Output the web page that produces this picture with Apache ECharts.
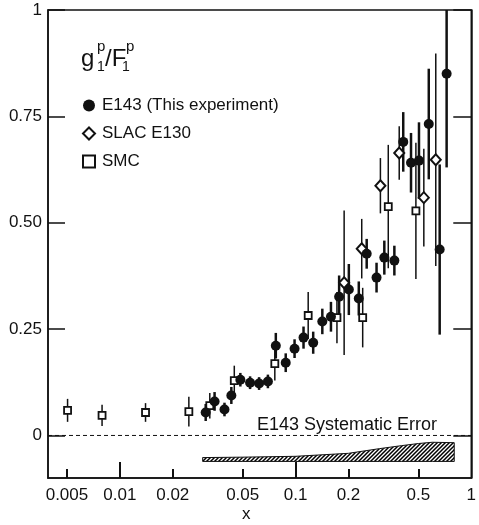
<!DOCTYPE html>
<html><head><meta charset="utf-8">
<script src="https://cdn.jsdelivr.net/npm/echarts@6/dist/echarts.min.js"></script>
<style>html,body{margin:0;padding:0;background:#fff}#c{width:479px;height:525px}</style>
</head><body><div id="c"></div>
<script>
// E143 (This experiment)
const e143X = [0.0308,0.0346,0.0394,0.0431,0.0485,0.0551,0.0620,0.0696,0.0772,0.0879,0.0987,0.111,0.126,0.142,0.159,0.177,0.201,0.229,0.254,0.289,0.320,0.365,0.410,0.454,0.504,0.573,0.661,0.724];
const e143Y = [0.054,0.080,0.061,0.094,0.131,0.124,0.122,0.127,0.211,0.171,0.204,0.230,0.218,0.268,0.279,0.326,0.343,0.322,0.427,0.371,0.418,0.411,0.690,0.641,0.646,0.732,0.437,0.850];
const e143Err = [0.02,0.022,0.016,0.02,0.016,0.015,0.015,0.016,0.03,0.022,0.022,0.026,0.026,0.03,0.035,0.05,0.06,0.04,0.035,0.035,0.04,0.035,0.07,0.07,0.09,0.13,0.2,0.22];
// SLAC E130
const e130X = [0.189,0.238,0.304,0.389,0.537,0.628];
const e130Y = [0.359,0.439,0.587,0.664,0.559,0.648];
const e130Err = [0.17,0.07,0.065,0.063,0.115,0.25];
// SMC
const smcX = [0.00504,0.00792,0.0140,0.0247,0.0325,0.0448,0.0762,0.118,0.172,0.241,0.337,0.484];
const smcY = [0.059,0.047,0.054,0.056,0.070,0.129,0.169,0.282,0.277,0.277,0.538,0.528];
const smcErr = [0.027,0.025,0.022,0.035,0.03,0.035,0.04,0.055,0.06,0.07,0.145,0.16];
// E143 systematic error band
const bandX = [0.0296,0.05,0.1,0.2,0.3,0.4,0.5,0.6,0.8];
const bandTop = [-0.052,-0.051,-0.049,-0.042,-0.031,-0.024,-0.019,-0.016,-0.017];
const bandBottom = [-0.061,-0.061,-0.061,-0.061,-0.061,-0.061,-0.061,-0.061,-0.061];
// ticks
const xLabelValues = [0.005,0.01,0.02,0.05,0.1,0.2,0.5,1];
const xMajorTicks = [0.01,0.1];
const xMinorTicks = [0.005,0.02,0.05,0.2,0.5];
const yTickValues = [0,0.25,0.5,0.75,1];

const FONT = '"Liberation Sans", Arial, Helvetica, sans-serif';
const INK = '#111';

// hatch pattern
const pat = document.createElement('canvas');
pat.width = 4; pat.height = 4;
(function(){
  const c = pat.getContext('2d');
  c.fillStyle = '#fff'; c.fillRect(0,0,4,4);
  c.strokeStyle = '#000'; c.lineWidth = 1.5;
  c.beginPath();
  c.moveTo(0,4); c.lineTo(4,0);
  c.moveTo(-1,1); c.lineTo(1,-1);
  c.moveTo(3,5); c.lineTo(5,3);
  c.stroke();
})();

function errSeries(xs, ys, es, width) {
  return {
    type: 'custom', silent: true, clip: true, z: 2,
    data: xs.map((x,i)=>[x, ys[i]-es[i], ys[i]+es[i]]),
    encode: {x: 0, y: [1,2]},
    renderItem: function(params, api){
      const p1 = api.coord([api.value(0), api.value(1)]);
      const p2 = api.coord([api.value(0), api.value(2)]);
      return {type:'line', shape:{x1:p1[0],y1:p1[1],x2:p2[0],y2:p2[1]}, style:{stroke:INK, lineWidth:width}};
    }
  };
}

const chart = echarts.init(document.getElementById('c'), null, {renderer:'canvas'});
const xBase = {type:'log', logBase:10, min:0.0039, max:1, gridIndex:0, splitLine:{show:false}};
chart.setOption({
  animation: false,
  backgroundColor: '#fff',
  textStyle: {fontFamily: FONT},
  grid: {left:48, right:2, top:10, bottom:47, show:true, borderColor:INK, borderWidth:1.5, backgroundColor:'transparent'},
  xAxis: [
    Object.assign({}, xBase, {
      position:'bottom',
      axisLine:{show:true, onZero:false, lineStyle:{color:INK, width:1.5}},
      axisTick:{show:true, inside:true, length:16, lineStyle:{color:INK, width:2}, customValues: xMajorTicks},
      axisLabel:{show:true, customValues: xLabelValues, fontSize:17, color:INK, margin:9, fontFamily:FONT,
        formatter: v => String(+v.toPrecision(3))}
    }),
    Object.assign({}, xBase, {
      position:'bottom',
      axisLine:{show:false, onZero:false},
      axisTick:{show:true, inside:true, length:9, lineStyle:{color:INK, width:2}, customValues: xMinorTicks},
      axisLabel:{show:false}
    })
  ],
  yAxis: [
    {type:'value', min:-0.1, max:1, position:'left', splitLine:{show:false},
      axisLine:{show:true, onZero:false, lineStyle:{color:INK, width:1.5}},
      axisTick:{show:true, inside:true, length:17, lineStyle:{color:INK, width:1.5}, customValues: yTickValues},
      axisLabel:{show:true, customValues: yTickValues, fontSize:17, color:INK, margin:6, fontFamily:FONT,
        formatter: v => (v===0 ? '0' : (v===1 ? '1' : v.toFixed(2)))}
    },
    {type:'value', min:-0.1, max:1, position:'right', splitLine:{show:false},
      axisLine:{show:true, onZero:false, lineStyle:{color:INK, width:1.5}},
      axisTick:{show:true, inside:true, length:18, lineStyle:{color:INK, width:1.5}, customValues: yTickValues},
      axisLabel:{show:false}
    }
  ],
  legend: {
    orient:'vertical', left:77, top:92, itemGap:11, itemWidth:12, itemHeight:12,
    textStyle:{fontSize:17, color:INK, fontFamily:FONT, padding:[0,0,0,2]},
    data:['E143 (This experiment)','SLAC E130','SMC']
  },
  graphic: [
    {type:'text', left:81, top:47, style:{text:'g', font:'24px '+FONT, fill:INK}},
    {type:'text', left:97, top:39, style:{text:'p', font:'15px '+FONT, fill:INK}},
    {type:'text', left:97, top:60, style:{text:'1', font:'14px '+FONT, fill:INK}},
    {type:'text', left:105, top:47, style:{text:'/F', font:'24px '+FONT, fill:INK}},
    {type:'text', left:126, top:39, style:{text:'p', font:'15px '+FONT, fill:INK}},
    {type:'text', left:122, top:60, style:{text:'1', font:'14px '+FONT, fill:INK}},
    {type:'text', left:257, top:416, style:{text:'E143 Systematic Error', font:'18px '+FONT, fill:INK}},
    {type:'text', left:242, top:506, style:{text:'x', font:'17px '+FONT, fill:INK}}
  ],
  series: [
    {
      type:'custom', silent:true, z:1,
      data:[[bandX[0], bandTop[0]]],
      renderItem: function(params, api){
        const pts = [];
        for (let i=0;i<bandX.length;i++) pts.push(api.coord([bandX[i], bandTop[i]]));
        for (let i=bandX.length-1;i>=0;i--) pts.push(api.coord([bandX[i], bandBottom[i]]));
        return {type:'polygon', shape:{points:pts}, style:{fill:{image:pat, repeat:'repeat'}, stroke:INK, lineWidth:1}};
      }
    },
    {
      type:'line', silent:true, symbol:'none', z:1,
      data:[[0.0039,0],[1,0]],
      lineStyle:{color:INK, width:1, type:[4,3]}
    },
    errSeries(smcX, smcY, smcErr, 1.5),
    errSeries(e130X, e130Y, e130Err, 1.5),
    errSeries(e143X, e143Y, e143Err, 2.5),
    {
      name:'E143 (This experiment)', type:'scatter', z:5, symbol:'circle', symbolSize:10,
      itemStyle:{color:INK, opacity:1},
      data: e143X.map((x,i)=>[x, e143Y[i]])
    },
    {
      name:'SLAC E130', type:'scatter', z:4, symbol:'diamond', symbolSize:[10,11],
      itemStyle:{color:'#fff', borderColor:INK, borderWidth:2, opacity:1},
      data: e130X.map((x,i)=>[x, e130Y[i]])
    },
    {
      name:'SMC', type:'scatter', z:4, symbol:'rect', symbolSize:7,
      itemStyle:{color:'#fff', borderColor:INK, borderWidth:1.8, opacity:1},
      data: smcX.map((x,i)=>[x, smcY[i]])
    }
  ]
});
</script>
</body></html>
